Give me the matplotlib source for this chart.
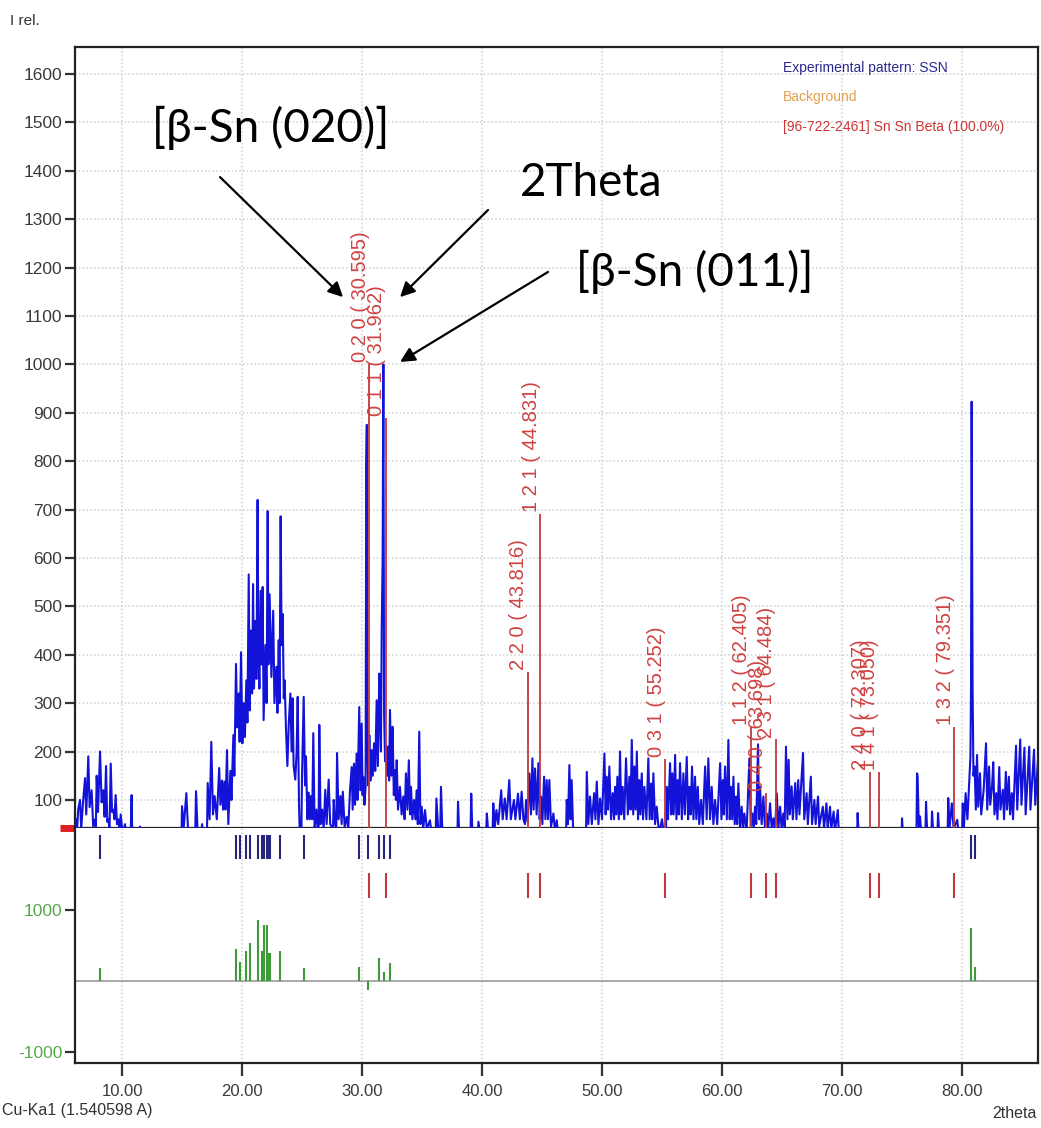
import numpy as np
import matplotlib.pyplot as plt
from matplotlib.transforms import blended_transform_factory

plt.rcParams['font.family'] = ['Liberation Sans Narrow', 'Liberation Sans', 'DejaVu Sans']
plt.rcParams['axes.unicode_minus'] = False

# measured pattern SSN, (2theta, counts), split by angular range
low_angle_scan = [
    (6.10, 45), (6.17, 60), (6.25, 35), (6.35, 80), (6.50, 100), (6.60, 40), (6.75, 95),
    (6.92, 145), (7.02, 70), (7.19, 190), (7.30, 85), (7.47, 120), (7.60, 45), (7.75, 60),
    (7.82, 45), (7.89, 150), (8.00, 75), (8.17, 200), (8.30, 95), (8.44, 120), (8.55, 65),
    (8.67, 170), (8.77, 55), (8.86, 60), (8.96, 40), (9.06, 175), (9.17, 75), (9.28, 80),
    (9.37, 60), (9.47, 110), (9.58, 50), (9.69, 60), (9.79, 35), (9.89, 70), (10.05, 30),
    (10.25, 50), (10.40, 20), (10.72, 25), (10.80, 110), (10.86, 20), (11.45, 20), (11.50, 45),
    (11.55, 20),
]
hump_scan = [
    (14.90, 20), (14.95, 20), (15.00, 87), (15.15, 45), (15.36, 114), (15.50, 40), (16.10, 30),
    (16.17, 118), (16.30, 35), (16.60, 30), (16.67, 50), (16.72, 30), (17.08, 30), (17.14, 135),
    (17.30, 60), (17.44, 220), (17.58, 70), (17.72, 108),
    (17.90, 60), (18.10, 166), (18.20, 90), (18.33, 140), (18.42, 80), (18.53, 138), (18.62, 80),
    (18.75, 203), (18.86, 50), (19.03, 160), (19.12, 100), (19.28, 234), (19.36, 150),
    (19.50, 381), (19.60, 250), (19.72, 320), (19.80, 220), (19.92, 405), (20.03, 217),
    (20.14, 300), (20.24, 230), (20.36, 347), (20.45, 260), (20.56, 566), (20.64, 285),
    (20.75, 450), (20.84, 320), (20.92, 546), (21.00, 330), (21.11, 470), (21.20, 350),
    (21.30, 720), (21.36, 415), (21.45, 330), (21.55, 532), (21.65, 380), (21.72, 540),
    (21.80, 265), (21.95, 420), (22.05, 300), (22.14, 697), (22.20, 380), (22.30, 525),
    (22.45, 354), (22.60, 491), (22.70, 300), (22.86, 375), (22.95, 280), (23.06, 430),
    (23.13, 300), (23.22, 686), (23.30, 420), (23.39, 484), (23.48, 310), (23.55, 347),
    (23.66, 250), (23.78, 170), (23.90, 260), (24.03, 320), (24.13, 200), (24.22, 310),
    (24.30, 170), (24.44, 142), (24.55, 200), (24.64, 313), (24.75, 90), (24.80, 42),
    (24.95, 40), (25.00, 150), (25.14, 313), (25.25, 130), (25.33, 190), (25.45, 60), (25.56, 115),
    (25.65, 60), (25.75, 108), (25.85, 60), (25.94, 238), (26.05, 40), (26.20, 80), (26.30, 40),
    (26.38, 40), (26.44, 255), (26.55, 50), (26.67, 80), (26.80, 40), (26.94, 121), (27.05, 50),
    (27.22, 142), (27.35, 50), (27.58, 40), (27.64, 100), (27.75, 50), (27.86, 40), (27.92, 197),
    (28.05, 60), (28.20, 108), (28.30, 50),
]
sn_main_scan = [
    (28.40, 117), (28.55, 45), (28.72, 65), (28.85, 40), (29.00, 120), (29.14, 168), (29.22, 80),
    (29.33, 175), (29.42, 90), (29.55, 196), (29.62, 100), (29.77, 292), (29.85, 120),
    (29.97, 258), (30.05, 110), (30.10, 148), (30.20, 90), (30.30, 127), (30.35, 790),
    (30.40, 875), (30.46, 200), (30.52, 130), (30.61, 234), (30.70, 140), (30.80, 203),
    (30.90, 150), (31.00, 217), (31.10, 160), (31.22, 306), (31.32, 170), (31.44, 361),
    (31.50, 272), (31.58, 200), (31.64, 451), (31.72, 600), (31.78, 1000), (31.84, 280),
    (31.92, 180), (32.00, 213), (32.10, 150), (32.19, 210), (32.26, 140), (32.33, 286),
    (32.45, 150), (32.55, 251), (32.65, 110), (32.75, 162), (32.82, 100), (32.89, 182),
    (33.00, 80), (33.16, 127), (33.30, 70), (33.44, 107), (33.55, 60), (33.66, 155), (33.78, 80),
    (33.90, 182), (34.00, 70), (34.08, 127), (34.20, 60), (34.33, 100), (34.45, 60), (34.55, 120),
    (34.65, 50), (34.77, 241), (34.87, 50), (34.97, 86), (35.10, 40), (35.25, 79), (35.40, 40),
    (35.66, 58), (35.80, 30), (36.14, 30), (36.20, 103), (36.35, 40), (36.52, 35), (36.58, 127),
    (36.70, 30), (37.95, 30), (38.00, 96), (38.10, 30), (39.04, 30), (39.10, 113), (39.20, 30),
    (39.65, 30), (39.70, 55), (39.85, 30), (40.34, 30), (40.40, 72), (40.50, 40), (40.88, 35),
    (40.94, 93), (41.05, 40), (41.20, 79), (41.35, 50), (41.60, 120), (41.72, 60), (41.90, 103),
    (42.05, 60), (42.27, 141), (42.40, 60), (42.66, 100), (42.78, 60), (43.00, 113), (43.15, 60),
    (43.30, 117), (43.45, 60),
]
mid_angle_scan = [
    (43.58, 50), (43.67, 100), (43.80, 55), (43.95, 155), (44.08, 70), (44.20, 186), (44.30, 80),
    (44.42, 165), (44.55, 70), (44.70, 176), (44.80, 60), (44.92, 107), (45.03, 50), (45.17, 148),
    (45.28, 60), (45.39, 141), (45.50, 60), (45.61, 141), (45.75, 45), (45.95, 72), (46.08, 35),
    (46.23, 58), (46.35, 20), (46.90, 30), (47.00, 30), (47.06, 100), (47.16, 50), (47.28, 172),
    (47.38, 60), (47.47, 141), (47.60, 30), (48.60, 40), (48.67, 35), (48.73, 158), (48.86, 50),
    (49.00, 107), (49.15, 50),
    (49.34, 114), (49.45, 60), (49.56, 138), (49.70, 50), (49.84, 103), (50.00, 60), (50.20, 196),
    (50.30, 70), (50.39, 148), (50.50, 80), (50.61, 169), (50.75, 60), (50.89, 114), (51.00, 60),
    (51.09, 127), (51.18, 70), (51.28, 148), (51.40, 60), (51.50, 200), (51.60, 70), (51.72, 127),
    (51.85, 60), (52.00, 186), (52.15, 70), (52.28, 148), (52.38, 80), (52.48, 224), (52.60, 70),
    (52.70, 169), (52.80, 80), (52.90, 200), (53.00, 60), (53.11, 141), (53.20, 70), (53.31, 155),
    (53.42, 60), (53.53, 127), (53.70, 60), (53.86, 186), (53.97, 60), (54.09, 134), (54.18, 60),
    (54.28, 155), (54.42, 50), (54.56, 86), (54.75, 30), (55.00, 60), (55.15, 30), (55.33, 35),
    (55.39, 127),
    (55.50, 60), (55.67, 176), (55.77, 70), (55.86, 155), (55.97, 70), (56.09, 193), (56.20, 60),
    (56.31, 141), (56.40, 70), (56.50, 176), (56.65, 60), (56.78, 155), (56.90, 70), (57.06, 189),
    (57.17, 60), (57.28, 127), (57.38, 70), (57.50, 169), (57.62, 60), (57.75, 148), (57.86, 60),
    (57.98, 127), (58.10, 50), (58.25, 100), (58.40, 50), (58.59, 169), (58.72, 60), (58.86, 186),
    (59.00, 60), (59.14, 127), (59.28, 50), (59.42, 100), (59.60, 50), (59.84, 176), (59.95, 60),
    (60.06, 141), (60.15, 70), (60.25, 169), (60.40, 60), (60.53, 224), (60.64, 60), (60.75, 127),
    (60.85, 60), (60.95, 148), (61.06, 50), (61.17, 107), (61.26, 50), (61.36, 134), (61.50, 40),
    (61.64, 86), (61.75, 40), (61.86, 72), (62.05, 35), (62.28, 186), (62.40, 40), (62.53, 72),
    (62.64, 40), (62.75, 86), (62.85, 50), (63.00, 215), (63.08, 60), (63.17, 127), (63.30, 50),
    (63.45, 107), (63.58, 40), (63.73, 72), (63.85, 40), (64.00, 93), (64.14, 40), (64.28, 62),
    (64.42, 40), (64.56, 114), (64.70, 40), (64.84, 86), (64.97, 40), (65.11, 72), (65.22, 45),
    (65.33, 210),
]
high_angle_scan = [
    (65.45, 60), (65.55, 183), (65.65, 70), (65.80, 128), (65.90, 60), (66.10, 135), (66.20, 60),
    (66.35, 141), (66.45, 70), (66.75, 197), (66.85, 60), (67.05, 114), (67.15, 50), (67.40, 148),
    (67.50, 50), (67.70, 100), (67.80, 50), (68.00, 107), (68.10, 45), (68.40, 86), (68.50, 40),
    (68.70, 93), (68.80, 40), (69.00, 86), (69.10, 40), (69.30, 76), (69.40, 35), (69.65, 79),
    (69.75, 20), (71.00, 20), (71.25, 20), (71.30, 73), (71.40, 20), (74.95, 20), (75.00, 62),
    (75.10, 20), (76.20, 25), (76.25, 155),
    (76.30, 148), (76.40, 40), (76.50, 66), (76.60, 30), (76.95, 30), (77.00, 96), (77.10, 30),
    (77.45, 30), (77.50, 76),
    (77.60, 30), (77.95, 30), (78.00, 73), (78.10, 30), (78.80, 35), (78.85, 104), (78.95, 40),
    (79.15, 93), (79.30, 40),
    (79.60, 59), (79.70, 35), (80.00, 35), (80.06, 93), (80.15, 40), (80.30, 114), (80.45, 60),
    (80.70, 190),
    (80.75, 331), (80.80, 923), (80.88, 330), (80.95, 150), (81.05, 169), (81.15, 80),
    (81.25, 193), (81.35, 86), (81.50, 155), (81.60, 70), (81.80, 120), (82.00, 217), (82.10, 80),
    (82.25, 169), (82.35, 90), (82.50, 128), (82.60, 178), (82.70, 70), (82.85, 114), (82.95, 60),
    (83.10, 168), (83.20, 80), (83.40, 121), (83.50, 60), (83.65, 158), (83.75, 80), (83.90, 148),
    (84.00, 70), (84.15, 114), (84.25, 60), (84.50, 212), (84.60, 80), (84.85, 225), (84.95, 90),
    (85.20, 208), (85.30, 70), (85.60, 210), (85.70, 80), (86.00, 204), (86.10, 90), (86.33, 183),
]

# beta-Sn reference card [96-722-2461]
ref_hkl = ["0 2 0", "0 1 1", "2 2 0", "1 2 1", "0 3 1", "1 1 2", "0 4 0", "2 3 1",
           "2 4 0", "1 4 1", "1 3 2"]
ref_2theta = [30.595, 31.962, 43.816, 44.831, 55.252, 62.405, 63.698, 64.484,
              72.307, 73.050, 79.351]
ref_counts = [1000, 890, 365, 690, 185, 250, 115, 225, 157, 157, 250]

# peaks found in the measured pattern and the difference curve at them
found_2theta = [8.17, 19.52, 19.80, 20.30, 20.67, 21.30, 21.70, 21.82, 22.06, 22.20, 22.33,
                23.20, 25.18, 29.76, 30.47, 31.42, 31.81, 32.33, 80.74, 81.08]
diff_counts = [180, 450, 265, 420, 535, 860, 423, 790, 790, 400, 400,
               420, 180, 198, -127, 320, 120, 250, 740, 200]

xticks = [10, 20, 30, 40, 50, 60, 70, 80]
yticks_top = [100, 200, 300, 400, 500, 600, 700, 800, 900, 1000, 1100, 1200, 1300, 1400, 1500, 1600]
yticks_diff = [-1000, 1000]
background_level = 42

scan = np.array(low_angle_scan + hump_scan + sn_main_scan + mid_angle_scan + high_angle_scan)

BLUE = '#1212d8'
NAVY = '#26267a'
RED = '#bf3a3c'
GREEN = '#3f9a3a'
GRID = '#cfcfcf'
TICKTXT = '#3a3a3a'

fig = plt.figure(figsize=(10.41, 11.28), dpi=100)
W, H = 1041, 1128
ax = fig.add_axes([75 / W, 1 - 828 / H, 963 / W, 781 / H])
axd = fig.add_axes([75 / W, 1 - 1063 / H, 963 / W, 235 / H], sharex=ax)

x0, x1 = 6.083, 86.33

# upper panel: measured pattern plus reference sticks
ax.plot(scan[:, 0], scan[:, 1], color=BLUE, lw=1.5, zorder=3)
ax.vlines(ref_2theta, 0, ref_counts, color=RED, lw=1.3, zorder=4)
for hkl, tt, c in zip(ref_hkl, ref_2theta, ref_counts):
    ax.text(tt + 0.05, c + 4, f"{hkl} ( {tt:.3f})", rotation=90, ha='right', va='bottom',
            color='#cf4242', fontsize=14.5, family=['Liberation Sans', 'DejaVu Sans'], zorder=5)

ax.set_xlim(x0, x1)
ax.set_ylim(background_level, 1655.8)
ax.set_yticks(yticks_top)
ax.tick_params(axis='y', direction='out', length=7, width=1.6, color='#333333',
               labelsize=12.5, labelcolor=TICKTXT, pad=2)
ax.tick_params(axis='x', bottom=False, labelbottom=False)
ax.set_xticks(xticks)
ax.grid(True, color=GRID, linestyle=(0, (1, 1.5)), lw=1.1)
ax.set_axisbelow(True)
for s in ax.spines.values():
    s.set_linewidth(1.6)
    s.set_color('#222222')

# red marker for the background level at the left edge
tr = blended_transform_factory(ax.transAxes, ax.transData)
ax.plot([-0.016, -0.001], [background_level, background_level], color='#e02020', lw=5,
        transform=tr, clip_on=False, solid_capstyle='butt')

# legend captions
ax.text(0.735, 0.973, "Experimental pattern: SSN", transform=ax.transAxes, color='#2a2a90',
        fontsize=10, va='center', ha='left')
ax.text(0.735, 0.936, "Background", transform=ax.transAxes, color='#e0a050',
        fontsize=10, va='center', ha='left')
ax.text(0.735, 0.898, "[96-722-2461] Sn Sn Beta (100.0%)", transform=ax.transAxes,
        color='#cc3535', fontsize=10, va='center', ha='left')

# phase annotations
anno_font = ['Lato', 'DejaVu Sans']
ax.text(22.4, 1488, "[β-Sn (020)]", fontsize=33, family=anno_font, ha='center', va='center')
ax.text(49.1, 1375, "2Theta", fontsize=33, family=anno_font, ha='center', va='center')
ax.text(57.75, 1191, "[β-Sn (011)]", fontsize=33, family=anno_font, ha='center', va='center')
arrow = dict(arrowstyle='-|>', lw=1.6, color='black', mutation_scale=22, shrinkA=0, shrinkB=0)
ax.annotate("", xy=(28.42, 1139), xytext=(18.17, 1387), arrowprops=arrow)
ax.annotate("", xy=(33.17, 1139), xytext=(40.5, 1319), arrowprops=arrow)
ax.annotate("", xy=(33.17, 1005), xytext=(45.5, 1191), arrowprops=arrow)

# lower panel: peak markers and difference curve
axd.vlines(found_2theta, 1718, 2056, color=NAVY, lw=1.5)
axd.vlines(ref_2theta, 1169, 1521, color=RED, lw=1.5)
axd.axhline(0, color='#9a9a9a', lw=1.2, zorder=1)
axd.vlines(found_2theta, 0, diff_counts, color=GREEN, lw=1.5, zorder=2)
axd.set_ylim(-1155, 2155)
axd.set_xlim(x0, x1)
axd.set_yticks(yticks_diff)
axd.set_xticks(xticks)
axd.set_xticklabels([f"{v:.2f}" for v in xticks])
axd.tick_params(axis='y', direction='out', length=7, width=1.6, color='#333333',
                labelsize=12.5, labelcolor='#55a848', pad=2)
axd.tick_params(axis='x', direction='out', length=9, width=1.6, color='#333333',
                labelsize=12, labelcolor=TICKTXT, pad=6)
axd.grid(True, axis='x', color=GRID, linestyle=(0, (1, 1.5)), lw=1.1)
axd.set_axisbelow(True)
axd.spines['top'].set_visible(False)
for s in ['left', 'right', 'bottom']:
    axd.spines[s].set_linewidth(1.6)
    axd.spines[s].set_color('#222222')

fig.text(10 / W, 1 - 21 / H, "I rel.", fontsize=11, color='#333333', va='center', ha='left')
fig.text(2 / W, 1 - 1110 / H, "Cu-Ka1 (1.540598 A)", fontsize=11.5, color='#333333',
         va='center', ha='left')
fig.text(1037 / W, 1 - 1113 / H, "2theta", fontsize=11.5, color='#333333', va='center', ha='right')

fig.savefig("out.png", dpi=100)
